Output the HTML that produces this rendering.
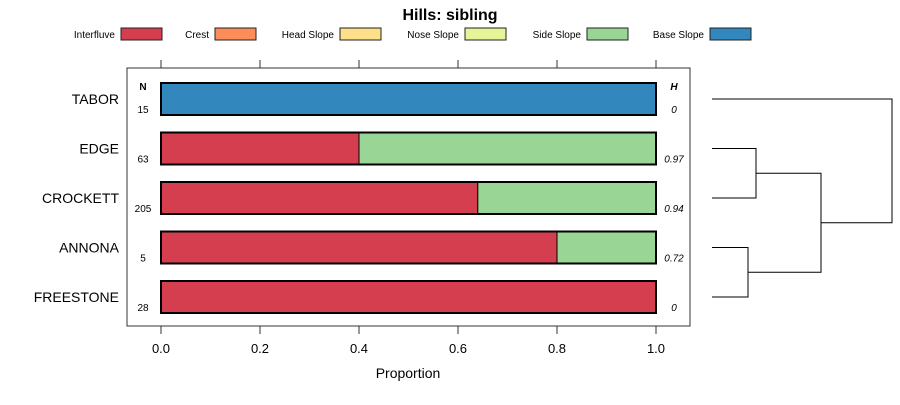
<!DOCTYPE html>
<html><head><meta charset="utf-8"><style>
body{margin:0;background:#fff;}
svg text{font-family:"Liberation Sans",sans-serif;}
</style></head><body>
<svg id="c" width="900" height="400" xmlns="http://www.w3.org/2000/svg">
<text x="450" y="20" text-anchor="middle" font-size="16" font-weight="bold">Hills: sibling</text>
<g id="legend"></g>
<rect x="127" y="68" width="563" height="258" fill="none" stroke="#333"/>
<g id="bars"></g>
<g id="axis"></g>
<text x="408" y="378" text-anchor="middle" font-size="14">Proportion</text>
<text x="143" y="90" text-anchor="middle" font-size="10" font-weight="bold">N</text>
<text x="674" y="90" text-anchor="middle" font-size="10" font-weight="bold" font-style="italic">H</text>
<g id="dend" stroke="#000" fill="none" stroke-width="1"></g>
</svg>
<script>
const classes=["Interfluve","Crest","Head Slope","Nose Slope","Side Slope","Base Slope"];
const colors=["#d53e4f","#fc8d59","#fee08b","#e6f598","#99d594","#3288bd"];
const series=["TABOR","EDGE","CROCKETT","ANNONA","FREESTONE"];
const counts=[15,63,205,5,28];
const hvals=["0","0.97","0.94","0.72","0"];
const interfluve=[0,0.4,0.64,0.8,1];
const sideSlope=[0,0.6,0.36,0.2,0];
const baseSlope=[1,0,0,0,0];
const ticks=[0,0.2,0.4,0.6,0.8,1.0];
const tickLabels=["0.0","0.2","0.4","0.6","0.8","1.0"];
const legendX=[121,215,340,465,587,710];
const NS="http://www.w3.org/2000/svg";
function mk(t,a,p){const e=document.createElementNS(NS,t);for(const k in a)e.setAttribute(k,a[k]);p.appendChild(e);return e;}
const xs=v=>161+v*495;
const ys=i=>99+i*49.5;
const lg=document.getElementById('legend');
classes.forEach((c,i)=>{
 const r=mk('rect',{x:legendX[i],y:28,width:41,height:12,fill:colors[i],stroke:'#222'},lg);
 
 
 const t=mk('text',{x:legendX[i]-6,y:38,'text-anchor':'end','font-size':10},lg);t.textContent=c;
 
 
});
const bg=document.getElementById('bars');
series.forEach((s,i)=>{
 const y=ys(i);
 const parts=[[interfluve[i],colors[0]],[sideSlope[i],colors[4]],[baseSlope[i],colors[5]]];
 let acc=0;
 parts.forEach(([v,col])=>{ if(v<=0)return;
  const r=mk('rect',{x:xs(acc),y:y-16,width:xs(acc+v)-xs(acc),height:32,fill:col,stroke:'#000','stroke-width':1},bg);
  
  
  acc+=v;});
 const o=mk('rect',{x:xs(0),y:y-16,width:xs(1)-xs(0),height:32,fill:'none',stroke:'#000','stroke-width':2},bg);
 
 
 const l=mk('text',{x:119,y:y+5,'text-anchor':'end','font-size':14},bg);l.textContent=s;
 
 
 const n=mk('text',{x:143,y:y+14,'text-anchor':'middle','font-size':10},bg);n.textContent=counts[i];
 
 
 const h=mk('text',{x:674,y:y+14,'text-anchor':'middle','font-size':10,'font-style':'italic'},bg);h.textContent=hvals[i];
 
 
});
const ax=document.getElementById('axis');
ticks.forEach((t,i)=>{
 mk('line',{x1:xs(t),x2:xs(t),y1:60,y2:68,stroke:'#333'},ax);
 mk('line',{x1:xs(t),x2:xs(t),y1:326,y2:334,stroke:'#333'},ax);
 const tx=mk('text',{x:xs(t),y:353,'text-anchor':'middle','font-size':13},ax);tx.textContent=tickLabels[i];
 
 
});
const d=document.getElementById('dend');
const L=712;
function br(x,y1,y2,xa,xb){mk('path',{d:`M${xa} ${y1}H${x}V${y2}H${xb}`},d);}
const yEC=(ys(1)+ys(2))/2, yAF=(ys(3)+ys(4))/2, yM=(yEC+yAF)/2;
br(756,ys(1),ys(2),L,L);
br(748,ys(3),ys(4),L,L);
br(821,yEC,yAF,756,748);
br(892,ys(0),yM,L,821);
</script>
</body></html>
